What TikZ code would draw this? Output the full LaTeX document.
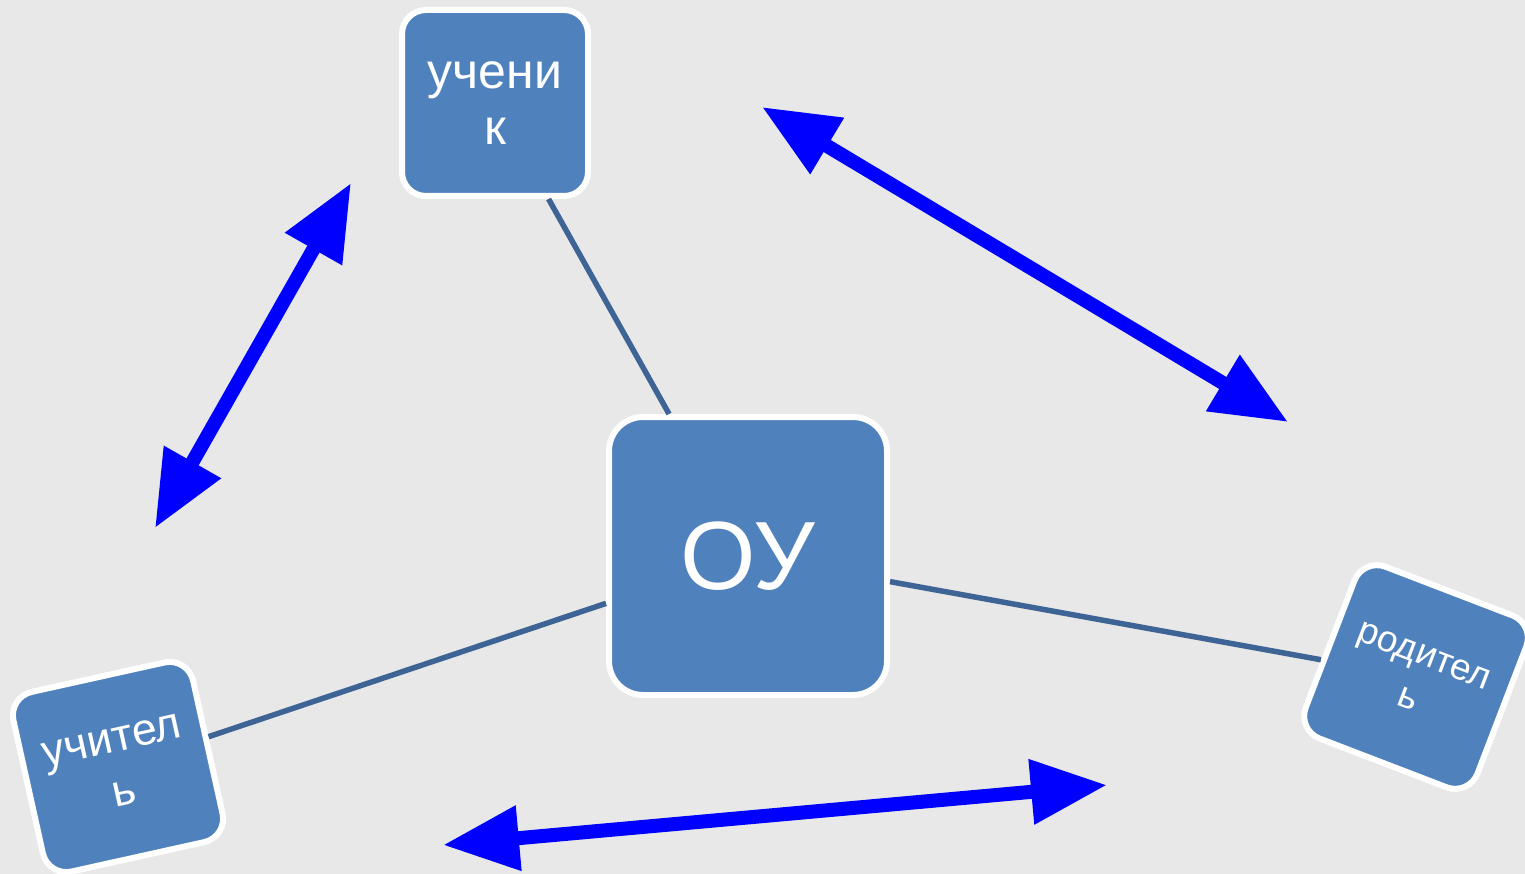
\documentclass[tikz,border=0pt]{standalone}
\usepackage{fontspec}
\setmainfont{Liberation Sans}
\usetikzlibrary{arrows.meta}
\definecolor{bgc}{RGB}{232,232,232}
\definecolor{boxc}{RGB}{79,129,189}
\definecolor{linkc}{RGB}{62,100,150}
\definecolor{arrc}{RGB}{0,0,255}
\begin{document}
\begin{tikzpicture}[x=1pt,y=-1pt,
  box/.style={draw=white,line width=6pt,fill=boxc,rounded corners=24pt,inner sep=0pt,
    text=white,align=center,minimum size=186pt},
  link/.style={draw=linkc,line width=5.5pt},
  twoway/.style={draw=arrc,line width=14pt,
    {Triangle[length=76pt,width=62pt]}-{Triangle[length=76pt,width=62pt]}}]
\useasboundingbox (0,0) rectangle (1525,874);
\clip (0,0) rectangle (1525,874);
\path[fill=bgc] (0,0) rectangle (1525,874);
\node[box,font=\fontsize{50}{56}\selectfont] (uch) at (495,103) {учени\\к};
\node[box,minimum size=278pt,rounded corners=34pt,font=\fontsize{97}{104}\selectfont] (ou) at (748,556) {ОУ};
\node[box,minimum size=184pt,rotate=12.5,font=\fontsize{45}{54}\selectfont] (tea) at (118,767) {учител\\ь};
\node[box,minimum size=184pt,rotate=-21,font=\fontsize{37}{46}\selectfont] (par) at (1416,677) {родител\\ь};
\draw[link] (uch) -- (ou);
\draw[link] (ou) -- (tea);
\draw[link] (ou) -- (par);
\coordinate (a1) at (351,183);
\coordinate (a2) at (155,528);
\coordinate (b1) at (762,107);
\coordinate (b2) at (1288,422);
\coordinate (c1) at (443,845);
\coordinate (c2) at (1107,785);
\draw[twoway] (a1) -- (a2);
\draw[twoway] (b1) -- (b2);
\draw[twoway] (c1) -- (c2);
\end{tikzpicture}
\end{document}
